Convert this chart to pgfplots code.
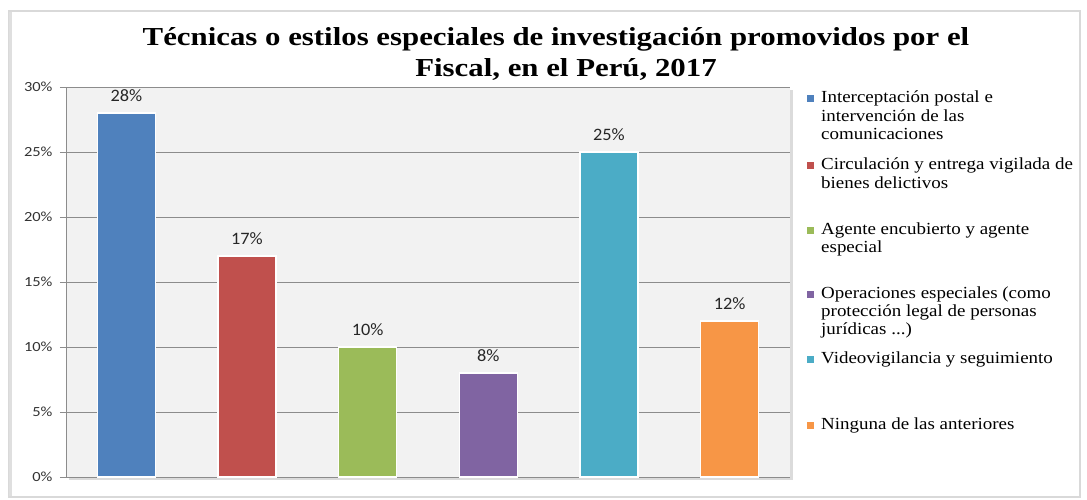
\documentclass[border=0pt]{standalone}
\usepackage{fontspec}
\setmainfont{Liberation Serif}
\newfontfamily\ticksfont[FakeStretch=1.18]{Carlito}
\newfontfamily\labelfont[FakeStretch=1.05]{Carlito}
\newfontfamily\titlefont[FakeStretch=1.19]{Liberation Serif}
\newfontfamily\legfont[FakeStretch=1.12]{Liberation Serif}
\usepackage{pgfplots}
\pgfplotsset{compat=1.18}

\definecolor{c1}{HTML}{4F81BD}
\definecolor{c2}{HTML}{C0504D}
\definecolor{c3}{HTML}{9BBB59}
\definecolor{c4}{HTML}{8064A2}
\definecolor{c5}{HTML}{4BACC6}
\definecolor{c6}{HTML}{F79646}
\definecolor{plotbg}{HTML}{F2F2F2}
\definecolor{gridc}{HTML}{8C8C8C}

% one legend line, y = baseline
\newcommand\legline[2]{\node[anchor=base west, inner sep=0pt,
  font=\legfont\fontsize{17}{18.5}\selectfont] at (821,#1) {#2};}
\newcommand\legbox[2]{\fill[#1] (807,#2-3.5) rectangle +(7,7);}

\begin{document}
\begin{tikzpicture}[x=1bp,y=1bp]
\useasboundingbox (0,0) rectangle (1087,500);
% outer frame
\draw[gray!30, line width=1.2] (9,3) rectangle (1080,489);
\draw[gray!25, line width=3] (10.5,4) -- (10.5,488);
% title
\node[anchor=base, font=\titlefont\bfseries\fontsize{26}{26}\selectfont] at (556,454)
  {Técnicas o estilos especiales de investigación promovidos por el};
\node[anchor=base, font=\titlefont\bfseries\fontsize{26}{26}\selectfont] at (566,423)
  {Fiscal, en el Perú, 2017};
% plot area shadow
\fill[gray!28] (69,20) rectangle (793,410);

\begin{axis}[
  at={(66bp,23bp)}, anchor=south west,
  width=724bp, height=390bp, scale only axis,
  xmin=-0.5, xmax=5.5, ymin=0, ymax=30,
  xtick=\empty,
  ytick={0,5,10,15,20,25,30},
  yticklabel={\pgfmathprintnumber{\tick}\%},
  /pgf/number format/assume math mode=true,
  yticklabel style={font=\ticksfont\fontsize{14}{14}\selectfont, text=black!80, xshift=-4bp},
  ytick pos=left, tick align=outside, major tick length=6bp,
  tick style={gridc, line width=0.8pt},
  axis x line=none,
  axis y line*=left,
  axis line style={gridc, line width=0.8pt, -},
  ymajorgrids, major grid style={gridc, line width=0.8pt},
  axis background/.style={fill=plotbg},
  ybar, bar width=58bp, bar shift=0pt,
  every axis plot/.append style={draw=white, line width=1.2pt},
  nodes near coords={\pgfmathprintnumber{\pgfplotspointmeta}\%},
  nodes near coords style={font=\labelfont\fontsize{17.5}{17.5}\selectfont,
    text=black!85, inner sep=1bp, yshift=10bp},
  clip=false,
]
\addplot[fill=c1] coordinates {(0,28)};
\addplot[fill=c2] coordinates {(1,17)};
\addplot[fill=c3] coordinates {(2,10)};
\addplot[fill=c4] coordinates {(3,8)};
\addplot[fill=c5] coordinates {(4,25)};
\addplot[fill=c6] coordinates {(5,12)};
\end{axis}

% legend
\legbox{c1}{401}
\legline{397}{Interceptación postal e}
\legline{378.5}{intervención de las}
\legline{360}{comunicaciones}
\legbox{c2}{334}
\legline{330}{Circulación y entrega vigilada de}
\legline{311.5}{bienes delictivos}
\legbox{c3}{269}
\legline{265}{Agente encubierto y agente}
\legline{247.5}{especial}
\legbox{c4}{205}
\legline{201}{Operaciones especiales (como}
\legline{183}{protección legal de personas}
\legline{165}{jurídicas ...)}
\legbox{c5}{140}
\legline{136}{Videovigilancia y seguimiento}
\legbox{c6}{74}
\legline{70}{Ninguna de las anteriores}
\end{tikzpicture}
\end{document}
